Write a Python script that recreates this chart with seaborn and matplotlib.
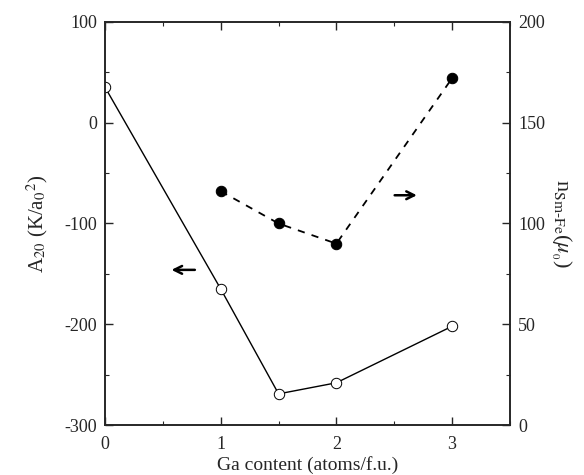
import matplotlib
matplotlib.use("Agg")
import matplotlib.pyplot as plt
import seaborn as sns
import pandas as pd
from matplotlib.ticker import MultipleLocator

ga_left = [0, 1, 1.5, 2, 3]
a20 = [35, -165, -269, -258, -202]
ga_right = [1, 1.5, 2, 3]
n_smfe = [116, 100, 90, 172]

sns.set_style("ticks")
plt.rcParams['font.family'] = ['Liberation Serif', 'DejaVu Serif']
plt.rcParams['mathtext.fontset'] = 'stix'
plt.rcParams['axes.unicode_minus'] = False

fig = plt.figure(figsize=(5.84, 4.75), dpi=100)
ax = fig.add_axes([0.18, 0.105, 0.693, 0.849])
ax2 = ax.twinx()

df1 = pd.DataFrame({"x": ga_left, "y": a20})
df2 = pd.DataFrame({"x": ga_right, "y": n_smfe})

sns.lineplot(data=df1, x="x", y="y", ax=ax, color="black", lw=1.0,
             marker="o", markersize=7.5, markerfacecolor="white",
             markeredgecolor="black", markeredgewidth=0.7)
sns.lineplot(data=df2, x="x", y="y", ax=ax2, color="black", lw=1.3,
             linestyle=(0, (4, 4)), marker="o", markersize=7.5,
             markerfacecolor="black", markeredgecolor="black")

ax.set_xlim(0, 3.5)
ax.set_ylim(-300, 100)
ax2.set_ylim(0, 200)

ax.xaxis.set_major_locator(MultipleLocator(1))
ax.xaxis.set_minor_locator(MultipleLocator(0.5))
ax.yaxis.set_major_locator(MultipleLocator(100))
ax.yaxis.set_minor_locator(MultipleLocator(50))
ax2.yaxis.set_major_locator(MultipleLocator(50))
ax2.yaxis.set_minor_locator(MultipleLocator(25))

ax.tick_params(axis='x', which='both', direction='in', top=True, labelsize=13, pad=8)
ax.tick_params(axis='y', which='both', direction='in', labelsize=13, pad=6)
ax.tick_params(which='major', length=6, width=1)
ax.tick_params(which='minor', length=3, width=0.8)
ax2.tick_params(axis='y', which='both', direction='in', labelsize=13, pad=6)
ax2.tick_params(which='major', length=6, width=1)
ax2.tick_params(which='minor', length=3, width=0.8)

for a in (ax, ax2):
    for s in a.spines.values():
        s.set_linewidth(1.2)
        s.set_visible(True)

ax.set_xlabel("Ga content (atoms/f.u.)", fontsize=14, labelpad=2)
ax.set_ylabel(r"A$_{20}$ (K/a$_0$$^2$)", fontsize=15, labelpad=10)
ax2.set_ylabel(r"n$_{\mathrm{Sm\text{-}Fe}}$($\mu_{_0}$)", fontsize=16, rotation=270, labelpad=20)

ax.annotate("", xy=(0.55, -146), xytext=(0.8, -146),
            arrowprops=dict(arrowstyle="->", lw=1.8, color="black", mutation_scale=14))
ax2.annotate("", xy=(2.72, 114), xytext=(2.48, 114),
             arrowprops=dict(arrowstyle="->", lw=1.8, color="black", mutation_scale=14))

fig.savefig("out.png", dpi=100)
